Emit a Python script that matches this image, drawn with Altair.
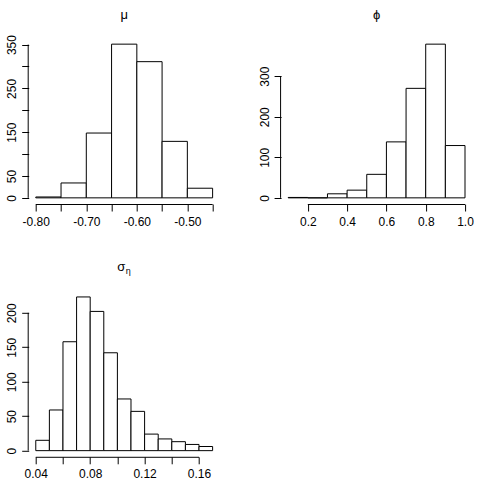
import altair as alt
import pandas as pd

# ---- data ----
mu_breaks = [-0.80, -0.75, -0.70, -0.65, -0.60, -0.55, -0.50, -0.45]
mu_counts = [2, 34, 148, 351, 311, 129, 22]
mu_xticks = [-0.80, -0.75, -0.70, -0.65, -0.60, -0.55, -0.50, -0.45]
mu_xlabels = [-0.80, -0.70, -0.60, -0.50]
mu_yticks = [0, 50, 100, 150, 200, 250, 300, 350]
mu_ylabels = [0, 50, 150, 250, 350]

phi_breaks = [0.1, 0.2, 0.3, 0.4, 0.5, 0.6, 0.7, 0.8, 0.9, 1.0]
phi_counts = [1, 0, 10, 19, 58, 138, 270, 379, 129]
phi_xticks = [0.2, 0.4, 0.6, 0.8, 1.0]
phi_xlabels = [0.2, 0.4, 0.6, 0.8, 1.0]
phi_yticks = [0, 100, 200, 300]
phi_ylabels = [0, 100, 200, 300]

sig_breaks = [0.04, 0.05, 0.06, 0.07, 0.08, 0.09, 0.10, 0.11, 0.12, 0.13, 0.14, 0.15, 0.16, 0.17]
sig_counts = [15, 59, 158, 223, 202, 142, 75, 57, 24, 17, 13, 9, 6]
sig_xticks = [0.04, 0.06, 0.08, 0.10, 0.12, 0.14, 0.16]
sig_xlabels = [0.04, 0.08, 0.12, 0.16]
sig_yticks = [0, 50, 100, 150, 200]
sig_ylabels = [0, 50, 100, 150, 200]

W, H = 191, 166
FONT = "Liberation Sans"
TITLE_Y = -19.5


def label_expr(labels, digits):
    arr = "[" + ",".join(repr(v) for v in labels) + "]"
    return (f"indexof({arr}, datum.value) >= 0 ? "
            f"(datum.value < 0 ? '-' + format(-datum.value, '.{digits}f') : format(datum.value, '.{digits}f')) : ''")


def panel(breaks, counts, xticks, xlabels, xdig, yticks, ylabels, title, sub=None):
    df = pd.DataFrame({"lo": breaks[:-1], "hi": breaks[1:], "n": counts, "z": [0] * len(counts)})
    xr = breaks[-1] - breaks[0]
    xdom = [breaks[0] - 0.04 * xr, breaks[-1] + 0.04 * xr]
    ymax = max(counts)
    ydom = [-0.04 * ymax, 1.04 * ymax]
    xs = alt.Scale(domain=xdom, nice=False, zero=False)
    ys = alt.Scale(domain=ydom, nice=False, zero=False)
    xaxis = alt.Axis(values=xticks, labelExpr=label_expr(xlabels, xdig), domain=False, grid=False,
                     tickSize=7, tickColor="black", tickWidth=1, labelPadding=14,
                     labelBaseline="alphabetic", labelAlign="center", labelOverlap=False,
                     labelFlush=False, title=None)
    yaxis = alt.Axis(values=yticks, labelExpr=label_expr(ylabels, 0), domain=False, grid=False,
                     tickSize=7, tickColor="black", tickWidth=1, labelPadding=6, labelAngle=-90,
                     labelBaseline="alphabetic", labelAlign="center", labelOverlap=False,
                     labelFlush=False, title=None)
    bars = alt.Chart(df).mark_rect(fill="white", stroke="black", strokeWidth=1).encode(
        x=alt.X("lo:Q", scale=xs, axis=xaxis),
        x2="hi:Q",
        y=alt.Y("n:Q", scale=ys, axis=yaxis),
        y2="z:Q",
    )
    xline = alt.Chart(pd.DataFrame({"xa": [xticks[0]], "xb": [xticks[-1]]})).mark_rule(
        color="black", strokeWidth=1).encode(
        x=alt.X("xa:Q", axis=None), x2="xb:Q", y=alt.value(H + 0.5))
    yline = alt.Chart(pd.DataFrame({"ya": [yticks[0]], "yb": [yticks[-1]]})).mark_rule(
        color="black", strokeWidth=1).encode(
        y=alt.Y("ya:Q", axis=None), y2="yb:Q", x=alt.value(-0.5))
    tdf = pd.DataFrame({"t": [title]})
    if sub is None:
        ttl = alt.Chart(tdf).mark_text(font=FONT, fontSize=13, baseline="alphabetic",
                                       align="center", color="black").encode(
            text="t:N", x=alt.value(W / 2), y=alt.value(TITLE_Y))
        layers = [bars, xline, yline, ttl]
    else:
        ttl = alt.Chart(tdf).mark_text(font=FONT, fontSize=13, baseline="alphabetic",
                                       align="right", color="black").encode(
            text="t:N", x=alt.value(W / 2 + 1), y=alt.value(TITLE_Y))
        subt = alt.Chart(pd.DataFrame({"s": [sub]})).mark_text(
            font=FONT, fontSize=9, baseline="alphabetic", align="left", color="black").encode(
            text="s:N", x=alt.value(W / 2 + 1.5), y=alt.value(TITLE_Y + 3))
        layers = [bars, xline, yline, ttl, subt]
    return alt.layer(*layers).resolve_axis(x="independent", y="independent").properties(
        width=W, height=H)


p1 = panel(mu_breaks, mu_counts, mu_xticks, mu_xlabels, 2, mu_yticks, mu_ylabels, "μ")
p2 = panel(phi_breaks, phi_counts, phi_xticks, phi_xlabels, 1, phi_yticks, phi_ylabels, "ϕ")
p3 = panel(sig_breaks, sig_counts, sig_xticks, sig_xlabels, 2, sig_yticks, sig_ylabels, "σ", sub="η")

chart = alt.concat(p1, p2, p3, columns=2, spacing=alt.RowColnumber(row=86.8, column=61.4),
                   bounds="flush").properties(
    padding={"left": 4.7, "top": 8, "right": 0, "bottom": 0}
).configure_view(stroke=None).configure_axis(
    labelFont=FONT, labelFontSize=12, labelColor="black"
)

chart.save("out.html", embed_options={"renderer": "svg", "actions": False})
